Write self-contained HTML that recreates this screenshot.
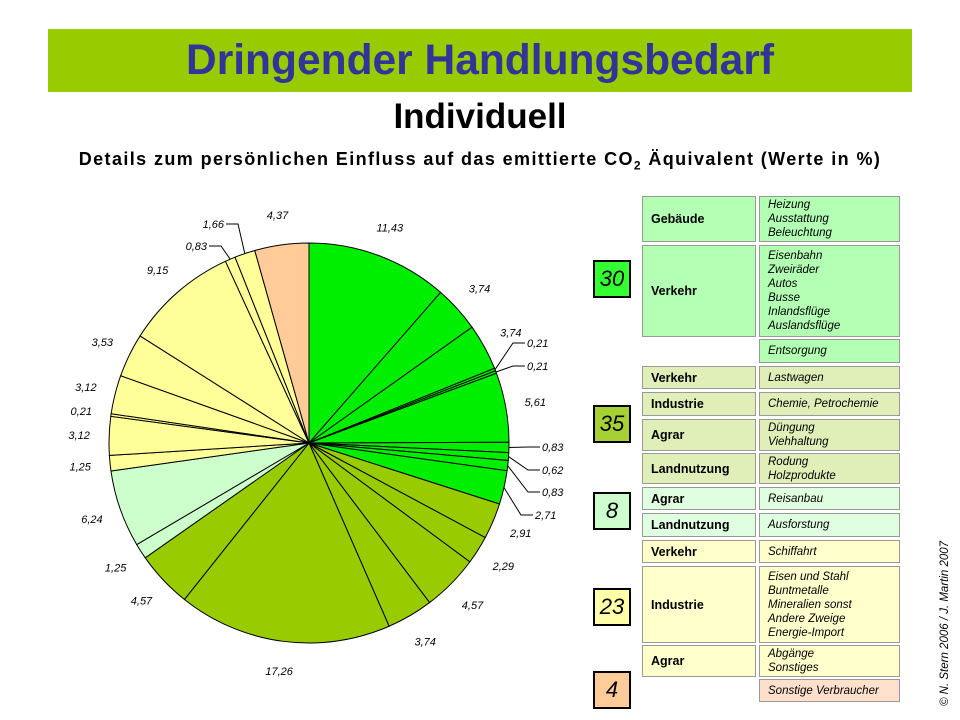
<!DOCTYPE html>
<html><head><meta charset="utf-8"><style>
body{margin:0;background:#fff;width:960px;height:720px;position:relative;overflow:hidden;font-family:"Liberation Sans",Arial,sans-serif}
.abs{position:absolute}
.box{position:absolute;border:1px solid #999;box-sizing:border-box;font-size:11.5px}
.c1{left:642px;width:114px;font-weight:bold;font-size:12.5px;display:flex;align-items:center;padding-left:8px}
.c2{left:759px;width:141px;font-style:italic;padding-left:8px;line-height:14px;display:flex;flex-direction:column;justify-content:center}
.num{position:absolute;left:593px;width:38px;height:38px;border:2px solid #000;box-sizing:border-box;font-size:22px;font-style:italic;display:flex;align-items:center;justify-content:center}
</style></head><body>
<div class="abs" style="left:48px;top:29px;width:864px;height:63px;background:#99cc00;color:#333399;font-weight:bold;font-size:42.5px;text-align:center;line-height:63px">Dringender Handlungsbedarf</div>
<div class="abs" style="left:0;top:97px;width:960px;text-align:center;font-weight:bold;font-size:35px">Individuell</div>
<div class="abs" style="left:0;top:149px;width:960px;text-align:center;font-weight:bold;font-size:18px;letter-spacing:1.4px">Details zum persönlichen Einfluss auf das emittierte CO<sub style="font-size:12px">2</sub> Äquivalent (Werte in %)</div>
<svg class="abs" style="left:0;top:0" width="590" height="720" id="pie"></svg>

<div class="box c1" style="top:196px;height:46px;background:#b3ffb3">Gebäude</div>
<div class="box c2" style="top:196px;height:46px;background:#b3ffb3"><span>Heizung</span><span>Ausstattung</span><span>Beleuchtung</span></div>
<div class="box c1" style="top:245px;height:92px;background:#b3ffb3">Verkehr</div>
<div class="box c2" style="top:245px;height:92px;background:#b3ffb3"><span>Eisenbahn</span><span>Zweiräder</span><span>Autos</span><span>Busse</span><span>Inlandsflüge</span><span>Auslandsflüge</span></div>
<div class="box c2" style="top:339px;height:24px;background:#b3ffb3">Entsorgung</div>
<div class="box c1" style="top:366px;height:23px;background:#e0efb8">Verkehr</div>
<div class="box c2" style="top:366px;height:23px;background:#e0efb8">Lastwagen</div>
<div class="box c1" style="top:392px;height:24px;background:#e0efb8">Industrie</div>
<div class="box c2" style="top:392px;height:24px;background:#e0efb8">Chemie, Petrochemie</div>
<div class="box c1" style="top:419px;height:32px;background:#e0efb8">Agrar</div>
<div class="box c2" style="top:419px;height:32px;background:#e0efb8"><span>Düngung</span><span>Viehhaltung</span></div>
<div class="box c1" style="top:453px;height:31px;background:#e0efb8">Landnutzung</div>
<div class="box c2" style="top:453px;height:31px;background:#e0efb8"><span>Rodung</span><span>Holzprodukte</span></div>
<div class="box c1" style="top:487px;height:23px;background:#e0ffe0">Agrar</div>
<div class="box c2" style="top:487px;height:23px;background:#e0ffe0">Reisanbau</div>
<div class="box c1" style="top:513px;height:24px;background:#e0ffe0">Landnutzung</div>
<div class="box c2" style="top:513px;height:24px;background:#e0ffe0">Ausforstung</div>
<div class="box c1" style="top:540px;height:23px;background:#ffffcc">Verkehr</div>
<div class="box c2" style="top:540px;height:23px;background:#ffffcc">Schiffahrt</div>
<div class="box c1" style="top:566px;height:77px;background:#ffffcc">Industrie</div>
<div class="box c2" style="top:566px;height:77px;background:#ffffcc"><span>Eisen und Stahl</span><span>Buntmetalle</span><span>Mineralien sonst</span><span>Andere Zweige</span><span>Energie-Import</span></div>
<div class="box c1" style="top:645px;height:32px;background:#ffffcc">Agrar</div>
<div class="box c2" style="top:645px;height:32px;background:#ffffcc"><span>Abgänge</span><span>Sonstiges</span></div>
<div class="box c2" style="top:679px;height:23px;background:#ffe0cc">Sonstige Verbraucher</div>

<div class="num" style="top:260px;background:#33ff33">30</div>
<div class="num" style="top:405px;background:#a6d033">35</div>
<div class="num" style="top:492px;background:#ccffcc">8</div>
<div class="num" style="top:588px;background:#ffffaa">23</div>
<div class="num" style="top:671px;background:#ffcc99">4</div>

<div class="abs" style="left:945px;top:706px;transform-origin:0 0;transform:rotate(-90deg);white-space:nowrap;font-size:11.5px;font-style:italic;line-height:12px;margin-left:-6px">© N. Stern 2006 / J. Martin 2007</div>

<script>
const values=[11.43,3.74,3.74,0.21,0.21,5.61,0.83,0.62,0.83,2.71,2.91,2.29,4.57,3.74,17.26,4.57,1.25,6.24,1.25,3.12,0.21,3.12,3.53,9.15,0.83,1.66,4.37];
const labels=["11,43","3,74","3,74","0,21","0,21","5,61","0,83","0,62","0,83","2,71","2,91","2,29","4,57","3,74","17,26","4,57","1,25","6,24","1,25","3,12","0,21","3,12","3,53","9,15","0,83","1,66","4,37"];
const groups=[0,0,0,0,0,0,0,0,0,0,1,1,1,1,1,1,2,2,3,3,3,3,3,3,3,3,4];
const colors=["#00ee00","#99cc00","#ccffcc","#ffff99","#ffcc99"];
const leaderLabels={3:[525,343],4:[525,366],6:[540,447],7:[540,470],8:[540,492],9:[533,515],24:[209,246],25:[226,224]};
const svg=document.getElementById('pie');const NS='http://www.w3.org/2000/svg';
const cx=309,cy=443,R=200;const total=values.reduce((a,b)=>a+b,0);
function pt(a,r){return [cx+r*Math.sin(a),cy-r*Math.cos(a)];}
let acc=0;
values.forEach((v,i)=>{
 const a0=acc/total*2*Math.PI;acc+=v;const a1=acc/total*2*Math.PI;
 const p0=pt(a0,R),p1=pt(a1,R);
 const path=document.createElementNS(NS,'path');
 path.setAttribute('d',`M${cx},${cy}L${p0[0]},${p0[1]}A${R},${R} 0 ${a1-a0>Math.PI?1:0} 1 ${p1[0]},${p1[1]}Z`);
 path.setAttribute('fill',colors[groups[i]]);path.setAttribute('stroke','#000');path.setAttribute('stroke-width','1');
 
 
 svg.appendChild(path);
 const am=(a0+a1)/2;
 const t=document.createElementNS(NS,'text');
 let lx,ly,anchor='middle';
 if(leaderLabels[i]){
   const e=pt(am,R),L=leaderLabels[i];
   const right=L[0]>cx;
   const ln=document.createElementNS(NS,'polyline');
   ln.setAttribute('points',`${e[0]},${e[1]} ${L[0]-(right?12:-12)},${L[1]} ${L[0]},${L[1]}`);
   ln.setAttribute('fill','none');ln.setAttribute('stroke','#000');
   
   
   svg.appendChild(ln);
   lx=L[0]+(right?2:-2);ly=L[1]+4;anchor=right?'start':'end';
 }else{
   const p=pt(am,R+30);lx=p[0];ly=p[1]+4;
 }
 t.setAttribute('x',lx);t.setAttribute('y',ly);t.setAttribute('text-anchor',anchor);
 t.setAttribute('font-size','11');t.setAttribute('font-style','italic');t.setAttribute('font-family','Liberation Sans, sans-serif');
 t.textContent=labels[i];
 
 
 svg.appendChild(t);
});
</script>
</body></html>
